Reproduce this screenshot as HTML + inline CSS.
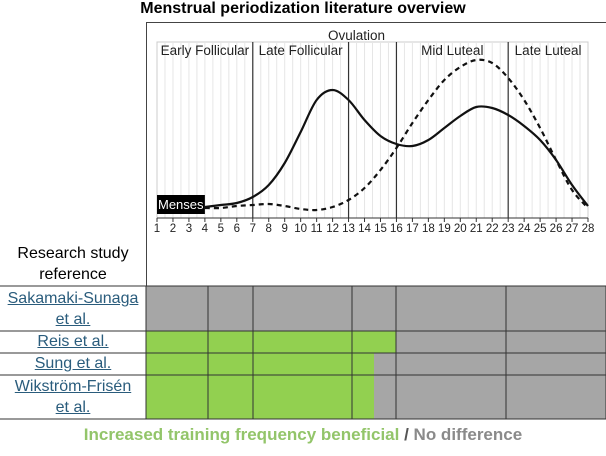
<!DOCTYPE html>
<html><head><meta charset="utf-8"><style>
body{margin:0;width:606px;height:456px;background:#fff;font-family:"Liberation Sans",sans-serif;overflow:hidden;position:relative}
.a{position:absolute}
.lnk{color:#2a5c7c;text-decoration:underline;font-size:16px;text-align:center;width:146px;line-height:21px}
</style></head><body>
<div class="a" style="left:0;width:606px;top:0px;text-align:center;font-weight:bold;font-size:16px">Menstrual periodization literature overview</div>
<svg class="a" style="left:0;top:0" width="606" height="456" id="svg"></svg>
<div class="a" style="left:0;top:243px;width:146px;text-align:center;font-size:16px;line-height:21px">Research study<br>reference</div>
<div class="a lnk" style="left:0;top:288px">Sakamaki-Sunaga<br>et al.</div>
<div class="a lnk" style="left:0;top:331px">Reis et al.</div>
<div class="a lnk" style="left:0;top:353px">Sung et al.</div>
<div class="a lnk" style="left:0;top:376px">Wikström-Frisén<br>et al.</div>
<div class="a" style="left:0;width:606px;top:425px;text-align:center;font-weight:bold;font-size:17px"><span style="color:#93c56a">Increased training frequency beneficial</span> <span style="color:#555">/</span> <span style="color:#8a8a8a">No difference</span></div>
<script>
const days=[4,5,6,7,8,9,10,11,12,13,14,15,16,17,18,19,20,21,22,23,24,25,26,27,28];
const solid=[11,13,15,21,33,55,86,118,128,118,98,82,74,72,78,90,102,111,110,103,92,78,58,33,12];
const dashed=[10,10,12,13,14,12,9,8,11,18,30,48,70,95,118,138,151,158,155,140,118,90,58,28,10];
const phases=[7,13,16,23];
const phaseNames=["Early Follicular","Late Follicular","","Mid Luteal","Late Luteal"];
const rows=["Sakamaki-Sunaga","Reis","Sung","Wikström-Frisén"];
const greenEnd=[0,396,374,374];
const S=document.getElementById('svg'),NS='http://www.w3.org/2000/svg';
const X=d=>157+(d-1)*(431/27), Y=v=>218-v;
function el(t,a,name){const e=document.createElementNS(NS,t);for(const k in a)e.setAttribute(k,a[k]);S.appendChild(e);return e;}
el('rect',{x:146.5,y:22.5,width:470,height:264,fill:'none',stroke:'#444'},'chart-frame');
el('rect',{x:X(1),y:42,width:X(28)-X(1),height:176,fill:'none',stroke:'#ccc'},'plot-area');
for(let d=1.5;d<28;d+=0.5)el('line',{x1:X(d),x2:X(d),y1:42,y2:218,stroke:'#e6e6e6'},'grid-line');
phases.forEach(p=>el('line',{x1:X(p),x2:X(p),y1:42,y2:218,stroke:'#333','stroke-width':1.2},'phase-line'));
const b=[1,...phases,28];
phaseNames.forEach((n,i)=>{if(!n)return;const t=el('text',{x:(X(b[i])+X(b[i+1]))/2,y:55,'text-anchor':'middle','font-size':13.5,fill:'#222'},'phase-label');t.textContent=n;});
let t=el('text',{x:X(13.5),y:40,'text-anchor':'middle','font-size':13.5,fill:'#222'},'ovulation-label');t.textContent='Ovulation';
el('line',{x1:X(1),x2:X(28),y1:218,y2:218,stroke:'#333'},'x-axis');
for(let d=1;d<=28;d++){el('line',{x1:X(d),x2:X(d),y1:218,y2:222,stroke:'#333'},'x-tick');const l=el('text',{x:X(d),y:232,'text-anchor':'middle','font-size':11.5,fill:'#222'},'x-tick-label');l.textContent=d;}
function path(vals){const p=days.map((d,i)=>[X(d),Y(vals[i])]);let s='M'+p[0];for(let i=0;i<p.length-1;i++){const p0=p[i-1]||p[i],p1=p[i],p2=p[i+1],p3=p[i+2]||p2;s+=' C'+(p1[0]+(p2[0]-p0[0])/6)+','+(p1[1]+(p2[1]-p0[1])/6)+' '+(p2[0]-(p3[0]-p1[0])/6)+','+(p2[1]-(p3[1]-p1[1])/6)+' '+p2;}return s;}
el('path',{d:path(dashed),fill:'none',stroke:'#111','stroke-width':2.2,'stroke-dasharray':'5,4'},'dashed-curve');
el('path',{d:path(solid),fill:'none',stroke:'#111','stroke-width':2.2},'solid-curve');
el('rect',{x:X(1),y:195,width:X(4)-X(1),height:19,fill:'#000'},'menses-box');
t=el('text',{x:X(1)+1,y:209,'font-size':13,fill:'#fff'},'menses-label');t.textContent='Menses';
const cols=[146,208,253,352,396,506,606];
const ry=[286,331,353,375,419];
rows.forEach((r,i)=>{el('rect',{x:146,y:ry[i],width:460,height:ry[i+1]-ry[i],fill:'#a6a6a6'},'row-'+i);if(greenEnd[i])el('rect',{x:146,y:ry[i],width:greenEnd[i]-146,height:ry[i+1]-ry[i],fill:'#92d050'},'green-'+i);});
cols.forEach(c=>el('line',{x1:c,x2:c,y1:286,y2:419,stroke:'#333'},'col-line'));
ry.forEach(y=>el('line',{x1:0,x2:606,y1:y,y2:y,stroke:'#333'},'row-line'));
</script>
</body></html>
